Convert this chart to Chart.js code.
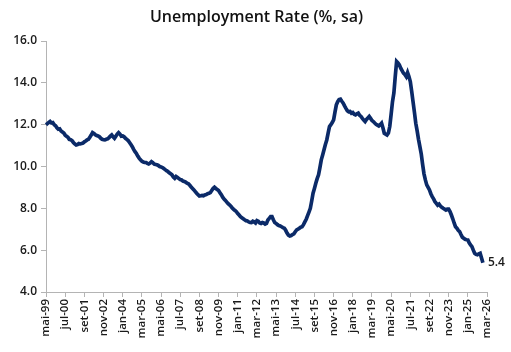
<!DOCTYPE html>
<html>
<head>
<meta charset="utf-8">
<script src="https://cdn.jsdelivr.net/npm/chart.js@4"></script>
<style>
  html, body { margin: 0; padding: 0; background: #fff; }
  #wrap { width: 511px; height: 352px; }
</style>
</head>
<body>
<div id="wrap"><canvas id="unempChart"></canvas></div>
<script>
// months in pt-BR, series starts mai-99 and axis runs to mar-26
const MONTHS = ['jan', 'fev', 'mar', 'abr', 'mai', 'jun', 'jul', 'ago', 'set', 'out', 'nov', 'dez'];
const START_YEAR = 1999, START_MONTH = 4;   // mai-99
const AXIS_MONTHS = 323;                    // mai-99 .. mar-26
const TICK_EVERY = 14;
const TITLE = 'Unemployment Rate (%, sa)';

// unemployment rate (%, sa), monthly from mai-99
const rate = [
    12.0, 12.05, 12.1, 12.15, 12.08, 12.1, 12.0, 11.95, 11.85, 11.78, 11.8, 11.7,
    11.65, 11.6, 11.5, 11.45, 11.4, 11.3, 11.28, 11.24, 11.15, 11.08, 11.03, 11.05,
    11.1, 11.08, 11.1, 11.12, 11.18, 11.22, 11.27, 11.3, 11.4, 11.5, 11.62, 11.58,
    11.52, 11.48, 11.46, 11.42, 11.35, 11.3, 11.28, 11.27, 11.3, 11.32, 11.38, 11.45,
    11.51, 11.42, 11.35, 11.45, 11.55, 11.62, 11.55, 11.45, 11.46, 11.42, 11.35, 11.3,
    11.24, 11.15, 11.05, 10.95, 10.82, 10.71, 10.62, 10.5, 10.4, 10.32, 10.25, 10.22,
    10.2, 10.19, 10.15, 10.12, 10.16, 10.23, 10.18, 10.12, 10.1, 10.08, 10.05, 10.0,
    9.98, 9.95, 9.9, 9.85, 9.8, 9.76, 9.7, 9.65, 9.6, 9.5, 9.44, 9.52,
    9.48, 9.42, 9.38, 9.36, 9.3, 9.28, 9.25, 9.2, 9.17, 9.1, 9.02, 8.95,
    8.88, 8.8, 8.72, 8.65, 8.59, 8.6, 8.62, 8.6, 8.64, 8.66, 8.7, 8.72,
    8.75, 8.85, 8.95, 9.01, 8.95, 8.9, 8.85, 8.75, 8.65, 8.53, 8.45, 8.38,
    8.3, 8.22, 8.16, 8.1, 8.02, 7.95, 7.9, 7.84, 7.75, 7.68, 7.6, 7.55,
    7.5, 7.45, 7.41, 7.4, 7.35, 7.33, 7.32, 7.38, 7.35, 7.3, 7.41, 7.38,
    7.3, 7.28, 7.32, 7.3, 7.25, 7.28, 7.44, 7.52, 7.6, 7.6, 7.45, 7.32,
    7.28, 7.22, 7.18, 7.16, 7.12, 7.08, 7.05, 6.95, 6.82, 6.72, 6.68, 6.7,
    6.75, 6.78, 6.88, 6.97, 7.0, 7.05, 7.1, 7.12, 7.22, 7.35, 7.48, 7.65,
    7.82, 8.0, 8.35, 8.72, 8.95, 9.2, 9.42, 9.6, 9.95, 10.32, 10.55, 10.8,
    11.05, 11.27, 11.6, 11.91, 12.0, 12.1, 12.23, 12.6, 12.95, 13.1, 13.2, 13.22,
    13.12, 13.03, 12.9, 12.78, 12.67, 12.62, 12.63, 12.55, 12.58, 12.5, 12.47, 12.52,
    12.55, 12.45, 12.39, 12.3, 12.22, 12.15, 12.25, 12.32, 12.39, 12.3, 12.2, 12.15,
    12.08, 12.02, 11.98, 11.94, 12.0, 12.07, 11.85, 11.59, 11.55, 11.51, 11.6, 11.91,
    12.5, 13.1, 13.51, 14.3, 15.02, 14.95, 14.86, 14.7, 14.58, 14.46, 14.4, 14.3,
    14.49, 14.3, 14.06, 13.6, 13.1, 12.6, 12.07, 11.7, 11.3, 10.95, 10.6, 10.1,
    9.65, 9.36, 9.12, 9.0, 8.88, 8.7, 8.56, 8.45, 8.32, 8.24, 8.15, 8.2,
    8.11, 8.05, 8.0, 7.96, 7.92, 7.96, 7.96, 7.85, 7.68, 7.5, 7.3, 7.12,
    7.05, 6.95, 6.89, 6.75, 6.62, 6.57, 6.52, 6.5, 6.49, 6.35, 6.25, 6.17,
    6.0, 5.85, 5.8, 5.78, 5.82, 5.85, 5.62, 5.4
];

const monthLabels = [];
for (let i = 0; i < AXIS_MONTHS; i++) {
    const m = (START_MONTH + i) % 12;
    const y = START_YEAR + Math.floor((START_MONTH + i) / 12);
    monthLabels.push(MONTHS[m] + '-' + String(y % 100).padStart(2, '0'));
}

const FONT = "'Open Sans', 'Noto Sans', sans-serif";
const AXIS_GREY = '#b4b4b4';
const NAVY = '#0b2a68';

// title centred on the whole canvas, as in the original
const centredTitle = {
    id: 'centredTitle',
    afterDraw(chart) {
        const ctx = chart.ctx;
        ctx.save();
        ctx.font = '600 16px ' + FONT;
        ctx.fillStyle = '#111';
        ctx.textAlign = 'center';
        ctx.textBaseline = 'alphabetic';
        ctx.fillText(TITLE, chart.width / 2 + 1, 22);
        ctx.restore();
    }
};

// writes the last value next to the end of the line
const lastValueLabel = {
    id: 'lastValueLabel',
    afterDatasetsDraw(chart) {
        const data = chart.data.datasets[0].data;
        const i = data.length - 1;
        const x = chart.scales.x.getPixelForValue(i);
        const y = chart.scales.y.getPixelForValue(data[i]);
        const ctx = chart.ctx;
        ctx.save();
        ctx.font = '600 12px ' + FONT;
        ctx.fillStyle = '#1a1a1a';
        ctx.textAlign = 'left';
        ctx.textBaseline = 'middle';
        ctx.fillText(data[i].toFixed(1), x + 5, y);
        ctx.restore();
    }
};

const ctx = document.getElementById('unempChart').getContext('2d');
new Chart(ctx, {
    type: 'line',
    data: {
        labels: monthLabels,
        datasets: [{
            label: 'Unemployment Rate',
            data: rate,
            borderColor: NAVY,
            borderWidth: 3.7,
            pointRadius: 0,
            tension: 0,
            fill: false
        }]
    },
    options: {
        responsive: true,
        maintainAspectRatio: false,
        animation: false,
        layout: {
            padding: { left: 0, right: 24, top: 41, bottom: 0 }
        },
        scales: {
            x: {
                type: 'category',
                offset: false,
                grid: {
                    drawOnChartArea: false,
                    drawTicks: true,
                    tickLength: 5,
                    color: AXIS_GREY
                },
                border: { display: true, color: AXIS_GREY, width: 1 },
                ticks: {
                    autoSkip: false,
                    minRotation: 90,
                    maxRotation: 90,
                    padding: 2,
                    color: '#1a1a1a',
                    font: { family: FONT, size: 11.5, weight: '600' },
                    callback: function (value, index) {
                        return index % TICK_EVERY === 0 ? this.getLabelForValue(value) : null;
                    }
                },
                afterFit(scale) { scale.height = 60; }
            },
            y: {
                min: 4,
                max: 16,
                grid: {
                    drawOnChartArea: false,
                    drawTicks: true,
                    tickLength: 5,
                    color: AXIS_GREY
                },
                border: { display: true, color: AXIS_GREY, width: 1 },
                ticks: {
                    stepSize: 2,
                    padding: 4,
                    color: '#1a1a1a',
                    font: { family: FONT, size: 12, weight: '600' },
                    callback: v => v.toFixed(1)
                },
                afterFit(scale) { scale.width = 46; }
            }
        },
        plugins: {
            legend: { display: false },
            tooltip: { enabled: false },
            title: { display: false }
        }
    },
    plugins: [centredTitle, lastValueLabel]
});
</script>
</body>
</html>
